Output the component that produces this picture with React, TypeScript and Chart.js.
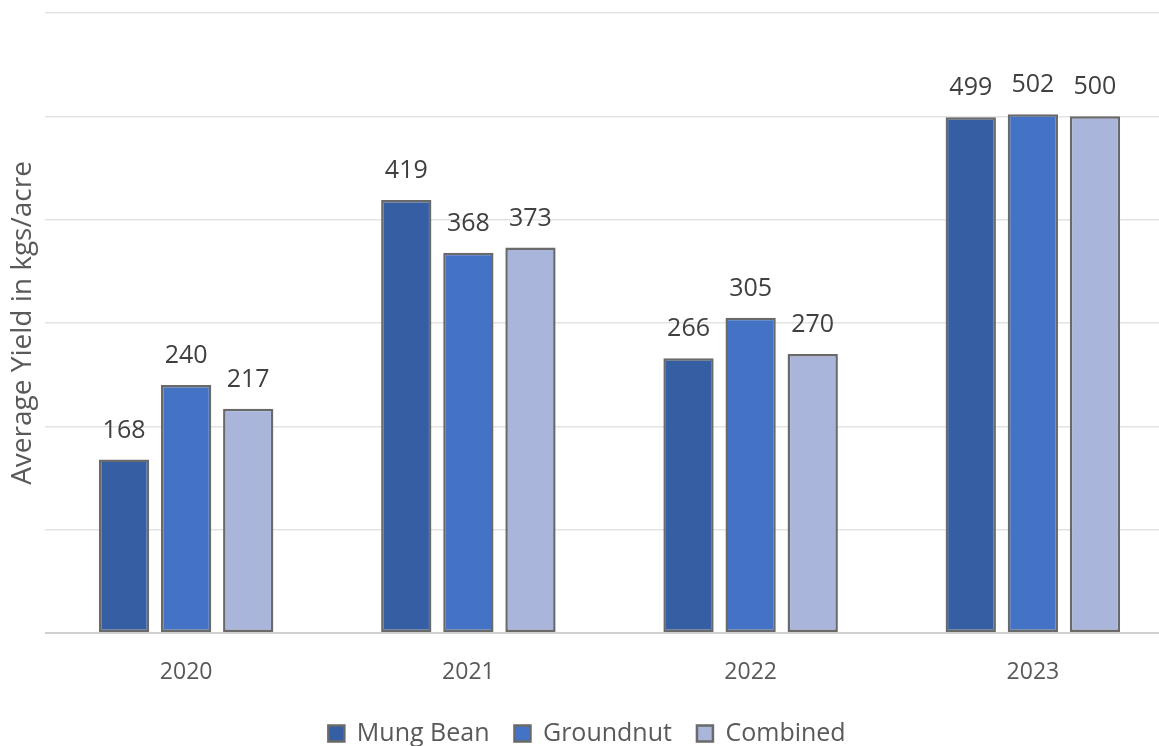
import React, { useEffect, useRef } from "react";
import { Chart, registerables } from "chart.js";

Chart.register(...registerables);

const categories = ["2020", "2021", "2022", "2023"];
const mungBean = [168, 419, 266, 499];
const groundnut = [240, 368, 305, 502];
const combined = [217, 373, 270, 500];
const seriesNames = ["Mung Bean", "Groundnut", "Combined"];
const seriesColors = ["#365FA3", "#4472C4", "#A9B5DA"];

const FONT = "'Open Sans', 'Noto Sans', sans-serif";

const valueLabels = {
  id: "valueLabels",
  afterDatasetsDraw(chart: any) {
    const ctx = chart.ctx;
    ctx.save();
    ctx.fillStyle = "#404040";
    ctx.font = `25px ${FONT}`;
    ctx.textAlign = "center";
    ctx.textBaseline = "middle";
    chart.data.datasets.forEach((ds: any, di: number) => {
      const meta = chart.getDatasetMeta(di);
      meta.data.forEach((bar: any, i: number) => {
        ctx.fillText(String(ds.data[i]), bar.x, bar.y - 29);
      });
    });
    ctx.restore();
  },
};

export default function App() {
  const ref = useRef<HTMLCanvasElement>(null);
  useEffect(() => {
    if (!ref.current) return;
    const data = [mungBean, groundnut, combined];
    const chart = new Chart(ref.current, {
      type: "bar",
      data: {
        labels: categories,
        datasets: data.map((d, i) => ({
          label: seriesNames[i],
          data: d,
          backgroundColor: seriesColors[i],
          borderColor: "#6A6A6A",
          borderWidth: 2.5,
          borderSkipped: false,
          categoryPercentage: 0.66,
          barPercentage: 0.81,
        })),
      },
      options: {
        responsive: false,
        animation: false,
        devicePixelRatio: 1,
        layout: { padding: { top: 13, right: 6, bottom: 4, left: 0 } },
        plugins: {
          tooltip: { enabled: false },
          legend: {
            position: "bottom",
            labels: {
              color: "#595959",
              font: { size: 25, family: FONT },
              boxWidth: 16,
              boxHeight: 16,
              padding: 25,
            },
          },
        },
        scales: {
          x: {
            grid: { display: false, drawTicks: false },
            border: { display: false },
            ticks: {
              color: "#595959",
              font: { size: 23, family: FONT },
              padding: 26,
            },
            afterFit(scale: any) {
              scale.height = 63;
            },
          },
          y: {
            min: 0,
            max: 600,
            ticks: { display: false, stepSize: 100 },
            grid: {
              color: (c: any) => (c.tick && c.tick.value === 0 ? "#D0D0D0" : "#E3E3E3"),
              lineWidth: (c: any) => (c.tick && c.tick.value === 0 ? 2 : 1.5),
              drawTicks: false,
            },
            border: { display: false },
            title: {
              display: true,
              text: "Average Yield in kgs/acre",
              color: "#595959",
              font: { size: 28, family: FONT },
              padding: { top: 6, bottom: 0 },
            },
            afterFit(scale: any) {
              scale.width = 45;
            },
          },
        },
      },
      plugins: [valueLabels],
    } as any);
    return () => chart.destroy();
  }, []);
  return (
    <div
      style={{
        position: "fixed",
        top: 0,
        left: 0,
        width: 1159,
        height: 746,
        overflow: "hidden",
        background: "#fff",
      }}
    >
      <canvas ref={ref} width={1180} height={760} style={{ display: "block", width: 1180, height: 760 }} />
    </div>
  );
}
